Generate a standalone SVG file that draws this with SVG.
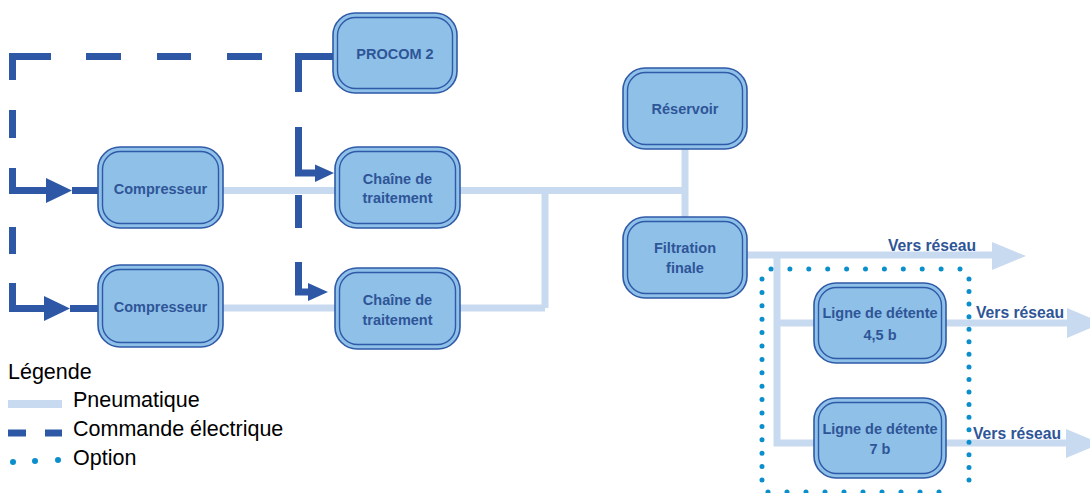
<svg xmlns="http://www.w3.org/2000/svg" width="1090" height="493" viewBox="0 0 1090 493">
<style>
.outer{fill:#8ec0e8;stroke:#2f5aa8;stroke-width:1.6}
.inner{fill:none;stroke:#2f5aa8;stroke-width:1.4}
.nt{font-family:"Liberation Sans",Arial,sans-serif;font-weight:bold;font-size:14.5px;fill:#2e5597;text-anchor:middle}
.pn{fill:none;stroke:#c8daf0;stroke-width:7}
.pa{fill:#c8daf0}
.el{fill:none;stroke:#2e58a6;stroke-width:7}
.ea{fill:#2e58a6}
.dot{fill:none;stroke:#0b8fcc;stroke-width:5;stroke-linecap:round}
.vr{font-family:"Liberation Sans",Arial,sans-serif;font-weight:bold;font-size:15.7px;fill:#2e5597}
.lg{font-family:"Liberation Sans",Arial,sans-serif;font-size:21.5px;fill:#000}
</style>
<g id="connectors">
  <!-- pneumatic -->
  <path class="pn" d="M223,190.5 H335 M460,190.5 H685 M685,149 V217 M545,190.5 V308 M223,308 H335 M460,308 H545"/>
  <path class="pn" d="M747,255 H993 M777,255 V443 H814 M777,323 H814 M946,323 H1068 M946,443 H1066"/>
  <polygon class="pa" points="992,242 1026,256 992,270"/>
  <polygon class="pa" points="1067,308 1102,323 1067,338"/>
  <polygon class="pa" points="1066,429 1101,443.5 1066,458"/>
  <!-- electric -->
  <path class="el" d="M12.5,80 V56.5 H51 M86,56.5 H121 M157,56.5 H191 M227,56.5 H262 M333,56.5 H298.5 V92"/>
  <path class="el" d="M12.5,110 V138 M12.5,168 V190.5 H46 M72,190.5 H98 M12.5,227 V254 M12.5,283 V308.5 H44 M70,308.5 H98"/>
  <path class="el" d="M298.5,127 V173 H316 M298.5,195 V228 M298.5,262 V292 H309"/>
  <polygon class="ea" points="46,178 72,190.5 46,203"/>
  <polygon class="ea" points="44,296 70,308.5 44,321"/>
  <polygon class="ea" points="315,164.5 334,173 315,182"/>
  <polygon class="ea" points="308,283 328,292 308,301"/>
  <!-- option dotted box -->
  <path class="dot" stroke-dasharray="0 18.9" d="M771,269 H960"/>
  <path class="dot" stroke-dasharray="0 19" d="M768,492 H958"/>
  <path class="dot" stroke-dasharray="0 13.4" d="M762,279 V480"/>
  <path class="dot" stroke-dasharray="0 12.56" d="M969,279 V480"/>
</g>
<g id="procom">
  <rect class="outer" x="333" y="13" width="124" height="80" rx="22"/>
  <rect class="inner" x="337.5" y="17.5" width="115" height="71" rx="18"/>
  <text class="nt" x="395" y="59">PROCOM 2</text>
</g>
<g id="compresseur1">
  <rect class="outer" x="98" y="147" width="125" height="81" rx="22"/>
  <rect class="inner" x="102.5" y="151.5" width="116" height="72" rx="18"/>
  <text class="nt" x="160.5" y="193.5">Compresseur</text>
</g>
<g id="chaine1">
  <rect class="outer" x="335" y="147" width="125" height="81" rx="22"/>
  <rect class="inner" x="339.5" y="151.5" width="116" height="72" rx="18"/>
  <text class="nt" x="397.5" y="184">Chaîne de</text>
  <text class="nt" x="397.5" y="203">traitement</text>
</g>
<g id="compresseur2">
  <rect class="outer" x="98" y="265" width="125" height="82" rx="22"/>
  <rect class="inner" x="102.5" y="269.5" width="116" height="73" rx="18"/>
  <text class="nt" x="160.5" y="312">Compresseur</text>
</g>
<g id="chaine2">
  <rect class="outer" x="335" y="268" width="125" height="81" rx="22"/>
  <rect class="inner" x="339.5" y="272.5" width="116" height="72" rx="18"/>
  <text class="nt" x="397.5" y="305">Chaîne de</text>
  <text class="nt" x="397.5" y="325">traitement</text>
</g>
<g id="reservoir">
  <rect class="outer" x="623" y="68" width="124" height="81" rx="22"/>
  <rect class="inner" x="627.5" y="72.5" width="115" height="72" rx="18"/>
  <text class="nt" x="685" y="114">Réservoir</text>
</g>
<g id="filtration">
  <rect class="outer" x="623" y="217" width="124" height="81" rx="22"/>
  <rect class="inner" x="627.5" y="221.5" width="115" height="72" rx="18"/>
  <text class="nt" x="685" y="253">Filtration</text>
  <text class="nt" x="685" y="273">finale</text>
</g>
<g id="ligne45">
  <rect class="outer" x="814" y="283" width="132" height="80" rx="22"/>
  <rect class="inner" x="818.5" y="287.5" width="123" height="71" rx="18"/>
  <text class="nt" x="880" y="318">Ligne de détente</text>
  <text class="nt" x="880" y="340">4,5 b</text>
</g>
<g id="ligne7">
  <rect class="outer" x="814" y="398" width="132" height="80" rx="22"/>
  <rect class="inner" x="818.5" y="402.5" width="123" height="71" rx="18"/>
  <text class="nt" x="880" y="434">Ligne de détente</text>
  <text class="nt" x="880" y="454">7 b</text>
</g>
<g id="labels">
  <text class="vr" x="888" y="251">Vers réseau</text>
  <text class="vr" x="976" y="318">Vers réseau</text>
  <text class="vr" x="973" y="439">Vers réseau</text>
</g>
<g id="legend">
  <text class="lg" x="8" y="379">Légende</text>
  <line x1="8" y1="404" x2="62" y2="404" stroke="#c8daf0" stroke-width="8"/>
  <text class="lg" x="73" y="407">Pneumatique</text>
  <line x1="8" y1="433" x2="26" y2="433" stroke="#2e58a6" stroke-width="7"/>
  <line x1="45" y1="433" x2="62" y2="433" stroke="#2e58a6" stroke-width="7"/>
  <text class="lg" x="73" y="436">Commande électrique</text>
  <circle cx="13" cy="462" r="3" fill="#0b8fcc"/>
  <circle cx="35" cy="461" r="3" fill="#0b8fcc"/>
  <circle cx="58" cy="460" r="3" fill="#0b8fcc"/>
  <text class="lg" x="73" y="465">Option</text>
</g>
</svg>
